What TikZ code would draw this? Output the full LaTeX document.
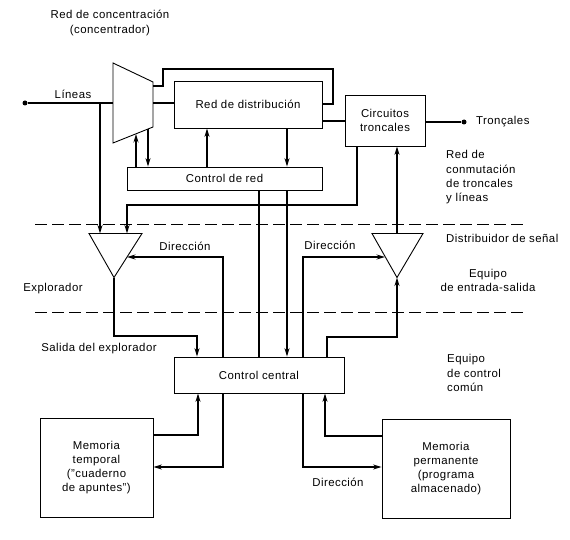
\documentclass[tikz,border=0pt]{standalone}
\usepackage{fontspec}
\setmainfont{Liberation Sans}[LetterSpace=4]
\usetikzlibrary{arrows.meta}
\newcommand\dfont{\fontsize{11.4}{14.3}\selectfont}
\begin{document}
\begin{tikzpicture}[x=1pt,y=-1pt,
  conn/.style={line width=1.4pt},
  arr/.style={conn,-{Stealth[length=8.5pt,width=5pt]}},
  box/.style={draw,line width=0.8pt,inner sep=0pt,align=center,font=\dfont},
  lbl/.style={inner sep=0pt,font=\dfont},
  sep/.style={line width=0.7pt,dash pattern=on 12pt off 5pt},
  shp/.style={draw,line width=0.9pt,line join=miter},
  dot/.style={circle,fill,inner sep=0pt,minimum size=5pt}]
\useasboundingbox (0,0) rectangle (570,540);

% shapes
\coordinate (t1) at (113,63); \coordinate (t2) at (153,82);
\coordinate (t3) at (153,127); \coordinate (t4) at (113,143);
\draw[shp] (t1) -- (t2) -- (t3) -- (t4) -- cycle;
\coordinate (la) at (89,233.5); \coordinate (lb) at (142,233.5); \coordinate (lc) at (114,277.5);
\draw[shp] (la) -- (lb) -- (lc) -- cycle;
\coordinate (ra) at (372,233.5); \coordinate (rb) at (423,233.5); \coordinate (rc) at (397,277.5);
\draw[shp] (ra) -- (rb) -- (rc) -- cycle;

% boxes
\node[box,minimum width=148pt,minimum height=47pt] (rd) at (248,104.5) {Red de distribución};
\node[box,minimum width=195pt,minimum height=23pt] (cr) at (224.5,178.5) {Control de red};
\node[box,minimum width=80pt,minimum height=51pt] (ct) at (385,120.5) {Circuitos\\troncales};
\node[box,minimum width=170pt,minimum height=36pt] (cc) at (259,375) {Control central};
\node[box,minimum width=113pt,minimum height=99pt] (mt) at (96.5,467.5) {Memoria\\temporal\\(''cuaderno\\de apuntes'')};
\node[box,minimum width=128pt,minimum height=99pt] (mp) at (446,468.5) {Memoria\\permanente\\(programa\\almacenado)};

% dots
\node[dot] (lin) at (25,103) {};
\node[dot] (tro) at (464,122) {};

% dashed separators
\draw[sep] (35,224) -- (525,224);
\draw[sep] (35,312) -- (525,312);

% connectors
\draw[conn] (lin) -- (113,103);
\draw[arr] (100,103) -- (100,233.5);
\draw[conn] (153,103) -- (rd.west |- 0,103);
\draw[conn] (153,86) -- (163,86) -- (163,69) -- (333,69) -- (333,104) -- (rd.east |- 0,104);
\draw[conn] (rd.east |- 0,121) -- (ct.west |- 0,121);
\draw[conn] (ct.east |- tro) -- (tro);
\draw[arr] (ct.south -| 357,0) -- (357,205) -- (127,205) -- (127,233.5);
\draw[arr] (397,233.5) -- (ct.south -| 397,0);

\draw[arr] (cr.north -| 136,0) -- (136,134);
\draw[arr] (148,129) -- (cr.north -| 148,0);
\draw[arr] (cr.north -| 207,0) -- (rd.south -| 207,0);
\draw[arr] (rd.south -| 287,0) -- (cr.north -| 287,0);
\draw[conn] (cr.south -| 259,0) -- (cc.north -| 259,0);
\draw[arr] (cr.south -| 287,0) -- (cc.north -| 287,0);

\draw[arr] (cc.north -| 223,0) -- (223,257) -- (127,257);
\draw[arr] (lc) -- (114,336) -- (197,336) -- (cc.north -| 197,0);
\draw[arr] (cc.north -| 303,0) -- (303,257) -- (385,257);
\draw[arr] (cc.north -| 327,0) -- (327,337) -- (397,337) -- (rc);

\draw[arr] (mt.east |- 0,435) -- (198,435) -- (cc.south -| 198,0);
\draw[arr] (cc.south -| 223,0) -- (223,467) -- (mt.east |- 0,467);
\draw[arr] (mp.west |- 0,436) -- (325,436) -- (cc.south -| 325,0);
\draw[arr] (cc.south -| 303,0) -- (303,467) -- (mp.west |- 0,467);

% labels
\node[lbl,align=center] (lconc) at (110,23) {Red de concentración\\(concentrador)};
\node[lbl] (llin) at (73,94) {Líneas};
\node[lbl,anchor=west] (ltro) at (476,122) {Tronçales};
\node[lbl,anchor=west,align=left] (lrcon) at (446,177.5) {Red de\\conmutación\\de troncales\\y líneas};
\node[lbl,anchor=west] (ldist) at (446,238) {Distribuidor de señal};
\node[lbl,align=center] (les) at (488,280.5) {Equipo\\de entrada-salida};
\node[lbl] (lexp) at (53,289) {Explorador};
\node[lbl] (lsal) at (99,349) {Salida del explorador};
\node[lbl] (ld1) at (185,246) {Dirección};
\node[lbl] (ld2) at (330,245) {Dirección};
\node[lbl] (ld3) at (338,482) {Dirección};
\node[lbl,anchor=west,align=left] (lecc) at (447,373) {Equipo\\de control\\común};
\end{tikzpicture}
\end{document}
